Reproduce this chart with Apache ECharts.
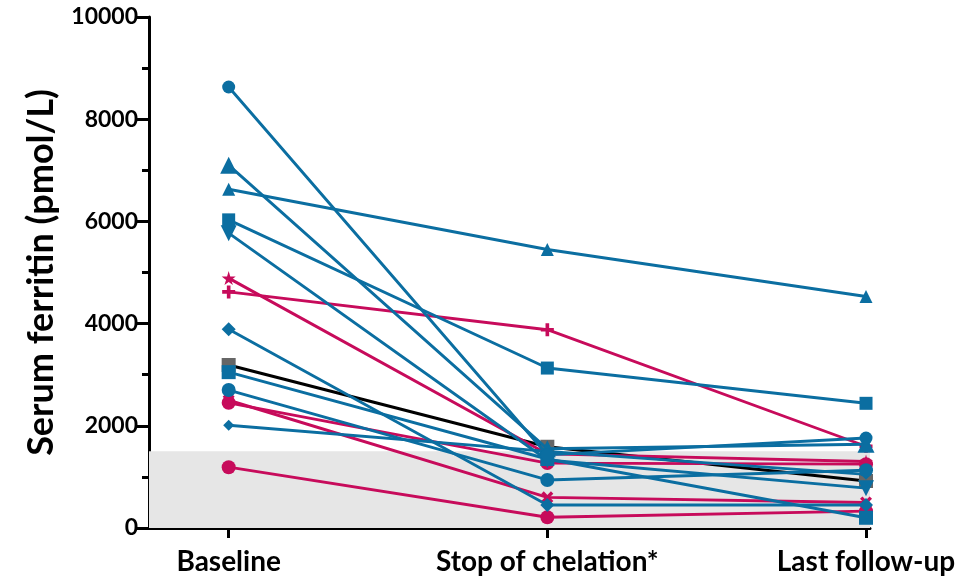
<!DOCTYPE html>
<html>
<head>
<meta charset="utf-8">
<script src="https://cdn.jsdelivr.net/npm/echarts@6/dist/echarts.min.js"></script>
<style>html,body{margin:0;padding:0;background:#fff}#c{width:977px;height:580px}</style>
</head>
<body>
<div id="c"></div>
<script>
// ---- data ----
const categories = ['Baseline', 'Stop of chelation*', 'Last follow-up'];
const yTicks = [0, 2000, 4000, 6000, 8000, 10000];
const normalUpper = 1500; // shaded reference band 0..1500

// blue patients
const blueCircleA   = [8630, 1430, 1760];
const blueTriangleA = [7100, 1550, 1640];
const blueTriangleB = [6630, 5450, 4530];
const blueSquareA   = [6030, 3130, 2440];
const blueDownTri   = [5770, 1330, 780];
const blueDiamondA  = [3890, 450, 450];
const blueSquareB   = [3050, 1350, 200];
const blueCircleB   = [2700, 940, 1130];
const blueDiamondB  = [2010, 1500, 1050];
// black / grey
const greySquare    = [3190, 1590, 920];
// magenta patients
const magStar       = [4890, 1450, 1300];
const magPlus       = [4620, 3880, 1600];
const magCross      = [2500, 600, 500];
const magCircleA    = [2450, 1270, 1250];
const magCircleB    = [1190, 210, 330];

// ---- styles ----
const BLUE = '#0b6ea1';
const MAG = '#c70b5b';
const FONT = 'Lato';
const STAR = 'path://M50,0 L61,35 L98,35 L68,57 L79,91 L50,70 L21,91 L32,57 L2,35 L39,35 Z';
const PLUS = 'path://M36,0 H64 V36 H100 V64 H64 V100 H36 V64 H0 V36 H36 Z';
const CROSS = 'path://M20,0 L50,30 L80,0 L100,20 L70,50 L100,80 L80,100 L50,70 L20,100 L0,80 L30,50 L0,20 Z';

const defs = [
  {v: greySquare, color: '#000', mcolor: '#666', symbol: 'rect', size: 14},
  {v: magCircleB, color: MAG, symbol: 'circle', size: 14},
  {v: magCircleA, color: MAG, symbol: 'circle', size: 14},
  {v: magCross, color: MAG, symbol: CROSS, size: 12},
  {v: magPlus, color: MAG, symbol: PLUS, size: 13},
  {v: magStar, color: MAG, symbol: STAR, size: 14},
  {v: blueDiamondB, color: BLUE, symbol: 'diamond', size: 11},
  {v: blueCircleB, color: BLUE, symbol: 'circle', size: 14},
  {v: blueSquareB, color: BLUE, symbol: 'rect', size: 14},
  {v: blueDiamondA, color: BLUE, symbol: 'diamond', size: 14},
  {v: blueDownTri, color: BLUE, symbol: 'triangle', size: 16, rotate: 180},
  {v: blueSquareA, color: BLUE, symbol: 'rect', size: 13},
  {v: blueTriangleB, color: BLUE, symbol: 'triangle', size: 13},
  {v: blueTriangleA, color: BLUE, symbol: 'triangle', size: 17},
  {v: blueCircleA, color: BLUE, symbol: 'circle', size: 13}
];

const series = [{
  type: 'line', data: [], silent: true, z: 0,
  markArea: {
    silent: true,
    itemStyle: {color: '#e6e6e6'},
    data: [[{yAxis: 0}, {yAxis: normalUpper}]]
  }
}];
defs.forEach(function (d, i) {
  series.push({
    type: 'line',
    data: d.v.map(function (val, k) { return [k, val]; }),
    symbol: d.symbol,
    symbolSize: d.size,
    symbolRotate: d.rotate || 0,
    showSymbol: true,
    animation: false,
    z: 2 + i,
    lineStyle: {color: d.color, width: 2.9},
    itemStyle: {color: d.mcolor || d.color, borderWidth: 0}
  });
});

const chart = echarts.init(document.getElementById('c'), null, {renderer: 'canvas'});
chart.setOption({
  animation: false,
  grid: {left: 149, right: 107, top: 17, bottom: 52},
  xAxis: {
    type: 'value', min: -0.25, max: 2.0125,
    splitLine: {show: false},
    axisLine: {show: true, onZero: false, lineStyle: {color: '#000', width: 3}},
    axisTick: {show: true, customValues: [0, 1, 2], length: 10, lineStyle: {color: '#000', width: 3}},
    axisLabel: {
      customValues: [0, 1, 2],
      formatter: function (v) { return categories[Math.round(v)]; },
      color: '#000', fontFamily: FONT, fontWeight: 'bold', fontSize: 28, margin: 20
    }
  },
  yAxis: {
    type: 'value', min: yTicks[0], max: yTicks[yTicks.length - 1], interval: 2000,
    name: 'Serum ferritin (pmol/L)', nameLocation: 'middle', nameGap: 90,
    nameTextStyle: {color: '#000', fontFamily: FONT, fontWeight: 'bold', fontSize: 36},
    splitLine: {show: false},
    axisLine: {show: true, onZero: false, lineStyle: {color: '#000', width: 3}},
    axisTick: {show: true, length: 12, lineStyle: {color: '#000', width: 3}},
    minorTick: {show: true, splitNumber: 2, length: 7, lineStyle: {color: '#000', width: 3}},
    axisLabel: {
      formatter: function (v) { return String(v); },
      color: '#000', fontFamily: FONT, fontWeight: 'bold', fontSize: 23, margin: 11
    }
  },
  series: series
});
</script>
</body>
</html>
